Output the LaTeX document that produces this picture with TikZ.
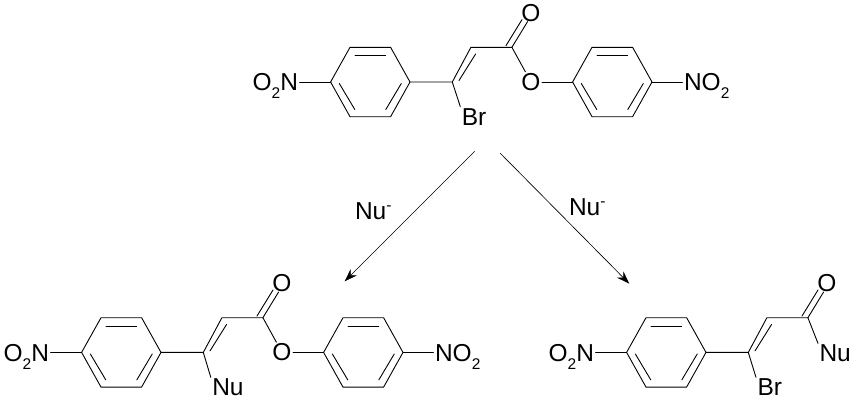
\documentclass[tikz,border=0pt]{standalone}
\usepackage{fontspec}
\setmainfont{Liberation Sans}
\usetikzlibrary{arrows.meta}
\newcommand{\subtwo}{\raisebox{-8pt}[0pt][0pt]{\fontsize{15.5}{15.5}\selectfont 2}}
\newcommand{\supminus}{\raisebox{8.5pt}{\fontsize{15.5}{15.5}\selectfont -}}
\tikzset{
  x=1pt,y=-1pt,
  bond/.style={line width=0.9pt,black,line cap=round},
  atom/.style={inner sep=0pt,outer sep=1.5pt,font=\fontsize{24.5}{24.5}\selectfont},
  reaction/.style={line width=0.65pt,black,-{Stealth[length=13pt,width=9pt,inset=4.5pt]}},
  pics/arene/.style={code={
    \coordinate (-l) at (-39.7,0);
    \coordinate (-tl) at (-20.3,-34.7);
    \coordinate (-tr) at (20.3,-34.7);
    \coordinate (-r) at (39.7,0);
    \coordinate (-br) at (20.3,34.7);
    \coordinate (-bl) at (-20.3,34.7);
    \coordinate (-i1) at (-15.3,-26.3);
    \coordinate (-i2) at (15.3,-26.3);
    \coordinate (-i3) at (-31,1.5);
    \coordinate (-i4) at (-15.5,27.5);
    \coordinate (-i5) at (31,1.5);
    \coordinate (-i6) at (15.5,27.5);
    \draw[bond] (-l)--(-tl)--(-tr)--(-r)--(-br)--(-bl)--cycle;
    \draw[bond] (-i1)--(-i2);
    \draw[bond] (-i3)--(-i4);
    \draw[bond] (-i5)--(-i6);
  }}
}
% p-nitrophenyl + vinyl + carbonyl, in the coordinates of the top molecule
\newcommand{\corepart}[1]{
  \pic (#1a) at (370.3,82) {arene};
  \node[atom,anchor=east] (#1n) at (299.5,82) {\rule{0pt}{18pt}O\subtwo N};
  \coordinate (#1c) at (452.3,82);
  \coordinate (#1ch) at (470.9,47.3);
  \coordinate (#1co) at (511.9,47.3);
  \coordinate (#1d1) at (459,80.5);
  \coordinate (#1d2) at (475.6,54);
  \coordinate (#1d3) at (506,45.6);
  \coordinate (#1d4) at (522,19.6);
  \coordinate (#1d5) at (527.6,21.6);
  \node[atom] (#1ot) at (530.9,13) {O};
  \draw[bond] (#1a-l) -- (#1n.east);
  \draw[bond] (#1a-r) -- (#1c) -- (#1ch) -- (#1co);
  \draw[bond] (#1d1) -- (#1d2);
  \draw[bond] (#1d3) -- (#1d4);
  \draw[bond] (#1co) -- (#1d5);
}
% ester oxygen + second p-nitrophenyl
\newcommand{\esterpart}[1]{
  \pic (#1b) at (612.3,82) {arene};
  \node[atom] (#1oe) at (531,82) {O};
  \node[atom,anchor=west] (#1m) at (682.5,82) {\rule{0pt}{18pt}NO\subtwo};
  \draw[bond] (#1co) -- (#1oe);
  \draw[bond] (#1oe.east) -- (#1b-l);
  \draw[bond] (#1b-r) -- (#1m.west);
}
\begin{document}
\begin{tikzpicture}
\useasboundingbox[fill=white] (0,0) rectangle (855,408);
% top molecule
\begin{scope}
  \corepart{t}
  \esterpart{t}
  \node[atom,anchor=base west] (tbr) at (460.3,125) {Br};
  \draw[bond] (tc) -- (tbr.north west);
\end{scope}
% bottom left molecule
\begin{scope}[shift={(-249,270.4)}]
  \corepart{u}
  \esterpart{u}
  \node[atom,anchor=base west] (unu) at (459.8,125.3) {Nu};
  \draw[bond] (uc) -- (unu.north west);
\end{scope}
% bottom right molecule
\begin{scope}[shift={(296,270.4)}]
  \corepart{v}
  \node[atom,anchor=base west] (vbr) at (460,125.3) {Br};
  \draw[bond] (vc) -- (vbr.north west);
  \node[atom,anchor=base west] (vnu) at (522,91.3) {Nu};
  \draw[bond] (vco) -- (vnu.north west);
\end{scope}
% arrows
\coordinate (as) at (474.7,151.3);
\coordinate (ae) at (344.7,281.3);
\coordinate (bs) at (500,153);
\coordinate (be) at (629.3,283.7);
\draw[reaction] (as) -- (ae);
\draw[reaction] (bs) -- (be);
\node[atom,anchor=base west] (nl) at (353.5,219) {Nu\supminus};
\node[atom,anchor=base west] (nr) at (567.5,215) {Nu\supminus};
\end{tikzpicture}
\end{document}
